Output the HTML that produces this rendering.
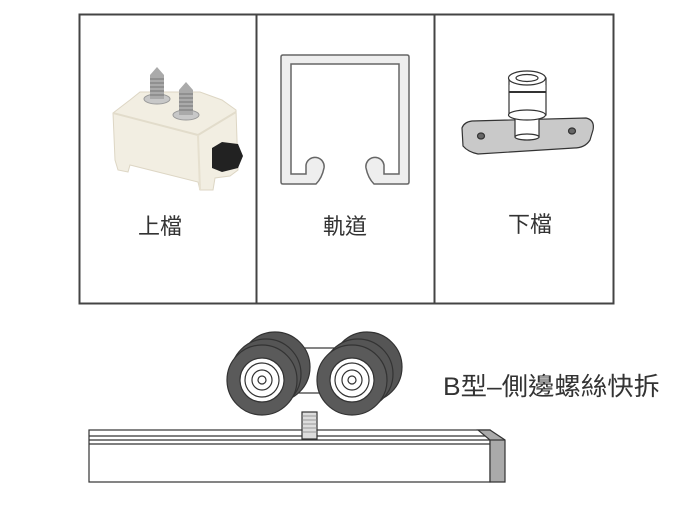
<!DOCTYPE html>
<html><head><meta charset="utf-8"><style>
html,body{margin:0;padding:0;background:#fff;width:700px;height:521px;overflow:hidden}
.t{font-family:"Liberation Sans","Noto Sans CJK TC",sans-serif;fill:#333}
</style></head><body>
<svg width="700" height="521" viewBox="0 0 700 521" xmlns="http://www.w3.org/2000/svg">
<rect x="79.5" y="14.5" width="534" height="289" fill="#fff" stroke="#444" stroke-width="2"/>
<line x1="256.5" y1="14" x2="256.5" y2="304" stroke="#444" stroke-width="2"/>
<line x1="434.5" y1="14" x2="434.5" y2="304" stroke="#444" stroke-width="2"/>

<g>
<path d="M113 113 L130 100 L140 92 L200 92 L222 100 L236 110 L238 170 L230 176 L215 178 L213 190 L200 190 L198 182 L130 165 L128 172 L118 170 L115 160 Z" fill="#f2eee2" stroke="#ddd6c4" stroke-width="1"/>
<path d="M113 113 L198 135 L236 112" fill="none" stroke="#e2dccb" stroke-width="2"/>
<path d="M198 135 L200 190" stroke="#e6e0cf" stroke-width="2"/>
<ellipse cx="157" cy="99" rx="13" ry="5" fill="#c8c8c8" stroke="#999"/>
<ellipse cx="186" cy="115" rx="13" ry="5" fill="#c8c8c8" stroke="#999"/>
<rect x="150" y="75" width="14" height="24" fill="#aaa"/>
<path d="M150 75 L157 67 L164 75 Z" fill="#aaa"/>
<rect x="179" y="90" width="14" height="25" fill="#aaa"/>
<path d="M179 90 L186 82 L193 90 Z" fill="#aaa"/>
<g stroke="#777" stroke-width="1">
<line x1="150" y1="79" x2="164" y2="79"/><line x1="150" y1="83" x2="164" y2="83"/><line x1="150" y1="87" x2="164" y2="87"/><line x1="150" y1="91" x2="164" y2="91"/><line x1="150" y1="95" x2="164" y2="95"/>
<line x1="179" y1="94" x2="193" y2="94"/><line x1="179" y1="98" x2="193" y2="98"/><line x1="179" y1="102" x2="193" y2="102"/><line x1="179" y1="106" x2="193" y2="106"/><line x1="179" y1="110" x2="193" y2="110"/>
</g>
<path d="M212 148 L222 142 L238 144 L243 156 L238 168 L222 172 L212 168 Z" fill="#222"/>
</g>
<text class="t" x="160" y="234" font-size="22" text-anchor="middle">上檔</text>

<path d="M281 57 Q281 55 283 55 L407 55 Q409 55 409 57 L409 182 Q409 184 407 184 L374 184 Q368 178 366 168 A9 9 0 1 1 384 165 L384 174 L399 174 L399 64 L291 64 L291 174 L306 174 L306 165 A9 9 0 1 1 324 168 Q322 178 316 184 L283 184 Q281 184 281 182 Z" fill="#eee" stroke="#666" stroke-width="1.5"/>
<text class="t" x="345" y="234" font-size="22" text-anchor="middle">軌道</text>

<g stroke="#333" stroke-width="1.2">
<path d="M462 128 Q464 122 472 121 L586 118 Q595 120 593 130 L590 140 Q585 148 574 148 L478 154 Q468 152 463 146 Z" fill="#c9c9c9"/>
<ellipse cx="481" cy="136" rx="3.5" ry="3" fill="#666"/>
<ellipse cx="572" cy="131" rx="3.5" ry="3" fill="#666"/>
<rect x="515" y="113" width="24" height="24" fill="#fff"/>
<ellipse cx="527" cy="137" rx="12" ry="3" fill="#fff"/>
<rect x="509" y="78" width="37" height="37" fill="#fff"/>
<ellipse cx="527" cy="115" rx="18.5" ry="5" fill="#fff"/>
<rect x="509.5" y="85" width="36" height="7" fill="#fff" stroke="none"/>
<ellipse cx="527" cy="78" rx="18.5" ry="7" fill="#fff"/>
<ellipse cx="527" cy="78" rx="11" ry="3.5" fill="#fff"/>
<line x1="509" y1="92" x2="546" y2="92" stroke-width="2"/>
</g>
<text class="t" x="530" y="232" font-size="22" text-anchor="middle">下檔</text>

<g stroke="#333" stroke-width="1.2">
<rect x="89" y="430" width="401" height="52" fill="#fff"/>
<line x1="89" y1="436" x2="490" y2="436"/>
<line x1="89" y1="440" x2="490" y2="440"/>
<line x1="89" y1="444" x2="490" y2="444"/>
<path d="M478 430 L490 430 L505 440 L505 482 L490 482 L490 440 Z" fill="#aaa"/>
<line x1="490" y1="440" x2="505" y2="440"/>
<rect x="302" y="412" width="15" height="27" fill="#ddd"/>
<g stroke="#888" stroke-width="0.8"><line x1="302" y1="416" x2="317" y2="416"/><line x1="302" y1="420" x2="317" y2="420"/><line x1="302" y1="424" x2="317" y2="424"/><line x1="302" y1="428" x2="317" y2="428"/><line x1="302" y1="432" x2="317" y2="432"/></g>
<rect x="290" y="348" width="50" height="45" fill="#fff"/>
<circle cx="275" cy="367" r="35" fill="#555"/>
<circle cx="367" cy="367" r="35" fill="#555"/>
<circle cx="266" cy="374" r="35" fill="#555"/>
<circle cx="358" cy="374" r="35" fill="#555"/>
<circle cx="262" cy="380" r="35" fill="#5a5a5a"/>
<circle cx="352" cy="380" r="35" fill="#5a5a5a"/>
<circle cx="262" cy="380" r="22" fill="#fff"/>
<circle cx="352" cy="380" r="22" fill="#fff"/>
<circle cx="262" cy="380" r="17" fill="none"/>
<circle cx="352" cy="380" r="17" fill="none"/>
<circle cx="262" cy="380" r="10" fill="none"/>
<circle cx="352" cy="380" r="10" fill="none"/>
<circle cx="262" cy="380" r="4" fill="none"/>
<circle cx="352" cy="380" r="4" fill="none"/>
</g>
<text class="t" x="443" y="395" font-size="25" textLength="217" lengthAdjust="spacingAndGlyphs" fill="#444">B型–側邊螺絲快拆</text>
</svg>
</body></html>
